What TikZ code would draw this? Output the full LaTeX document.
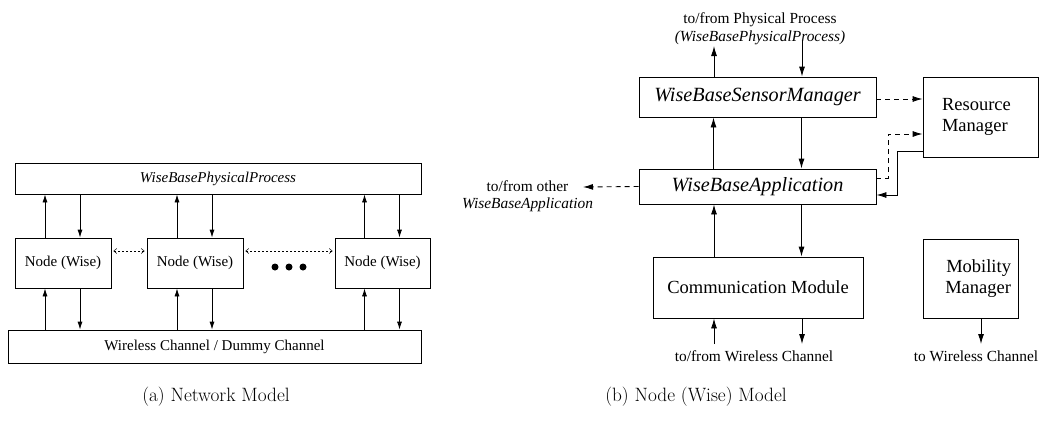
\documentclass[tikz,border=0pt]{standalone}
\usepackage{fontspec}
\newfontfamily\tms{Liberation Serif}
\usetikzlibrary{arrows.meta}

\tikzset{
  box/.style={draw,line width=0.8pt,inner sep=2pt,font=\tms\fontsize{15}{17}\selectfont},
  mod/.style={draw,line width=0.9pt,inner sep=2pt,font=\tms\fontsize{18.5}{21}\selectfont},
  imod/.style={mod,font=\tms\itshape\fontsize{20.2}{22}\selectfont},
  note/.style={inner sep=0pt,font=\tms\fontsize{15.4}{17.5}\selectfont},
  subcap/.style={inner sep=0pt,font=\fontsize{19.3}{22}\selectfont},
  sarr/.style={-{Latex[length=8pt,width=5pt]},line width=0.8pt},
  link/.style={{Straight Barb[length=3pt,width=5pt]}-{Straight Barb[length=3pt,width=5pt]},
    dash pattern=on 2pt off 2pt,line width=0.5pt,shorten <=2pt,shorten >=2pt},
  barr/.style={-{Latex[length=10pt,width=6pt]},line width=0.9pt},
  dbarr/.style={barr,dash pattern=on 5pt off 4pt}
}

\begin{document}
\begin{tikzpicture}[x=1pt,y=-1pt]
  \useasboundingbox (0,0) rectangle (1040,421);

  % (a) network model
  \node [box,minimum width=406pt,minimum height=31pt] (pp) at (218,178.5)
    {\itshape WiseBasePhysicalProcess};
  \node [box,minimum width=96pt,minimum height=50pt] (n1) at (63,263) {Node (Wise)};
  \node [box,minimum width=96pt,minimum height=50pt] (n2) at (195,263) {Node (Wise)};
  \node [box,minimum width=95pt,minimum height=50pt] (n3) at (382.5,263) {Node (Wise)};
  \node [box,minimum width=413pt,minimum height=33pt] (wc) at (214.5,346.5)
    {Wireless Channel / Dummy Channel};

  \foreach \n in {n1,n2,n3} {
    \draw [sarr] ([xshift=-18pt]\n.north) -- ([xshift=-18pt]\n.north |- pp.south);
    \draw [sarr] ([xshift=17pt]\n.north |- pp.south) -- ([xshift=17pt]\n.north);
    \draw [sarr] ([xshift=-18pt]\n.south |- wc.north) -- ([xshift=-18pt]\n.south);
    \draw [sarr] ([xshift=17pt]\n.south) -- ([xshift=17pt]\n.south |- wc.north);
  }

  \draw [link] ([yshift=12pt]n1.east) -- ([yshift=12pt]n2.west);
  \draw [link] ([yshift=12pt]n2.east) -- ([yshift=12pt]n3.west);
  \foreach \x in {275,289,303}
    \fill (\x,267) circle (3.5pt);

  \node [subcap] (capa) at (216,397) {(a) Network Model};

  % (b) node model
  \node [note,align=center] (pptxt) at (760,28.5)
    {to/from Physical Process\\{\itshape (WiseBasePhysicalProcess)}};
  \node [imod,minimum width=237pt,minimum height=40pt] (sm) at (757.5,97)
    {WiseBaseSensorManager};
  \node [imod,minimum width=237pt,minimum height=35pt] (app) at (757.5,186.5)
    {WiseBaseApplication};
  \node [mod,minimum width=210pt,minimum height=61pt] (cm) at (758,287.5)
    {Communication Module};
  \node [mod,text width=77pt,inner xsep=19pt,align=left,minimum height=80pt] (rm)
    at (980.5,117) {Resource\\Manager};
  \node [mod,text width=81pt,inner xsep=7pt,align=right,minimum height=79pt] (mm)
    at (970.5,278.5) {Mobility\\Manager};

  \node [note,align=center] (othtxt) at (527.5,196)
    {to/from other\\{\itshape WiseBaseApplication}};
  \node [note] (wtxt) at (754,356) {to/from Wireless Channel};
  \node [note] (mtxt) at (976,356) {to Wireless Channel};

  \coordinate (pin) at (714,46);
  \coordinate (pout) at (802,41);
  \coordinate (oth) at (583,187);
  \coordinate (win) at (714,344);
  \coordinate (wout) at (802,344);
  \coordinate (mout) at (981,344);

  \draw [barr] (sm.north -| pin) -- (pin);
  \draw [barr] (pout) -- (sm.north -| pout);
  \draw [barr] ([xshift=-44pt]app.north) -- ([xshift=-44pt]sm.south);
  \draw [barr] ([xshift=44pt]sm.south) -- ([xshift=44pt]app.north);
  \draw [barr] ([xshift=-44pt]cm.north) -- ([xshift=-44pt]cm.north |- app.south);
  \draw [barr] ([xshift=44pt]app.south) -- ([xshift=44pt]app.south |- cm.north);
  \draw [barr] (win) -- (cm.south -| win);
  \draw [barr] (cm.south -| wout) -- (wout);
  \draw [barr] (mm.south -| mout) -- (mout);

  \draw [dbarr] (app.west) -- (oth);
  \draw [dbarr] ([yshift=-2pt]sm.east) -- ([yshift=-2pt]sm.east -| rm.west);
  \draw [dbarr] ([yshift=8.5pt]app.east) -| ([xshift=-34pt,yshift=-17pt]rm.west)
    -- ([yshift=-17pt]rm.west);
  \draw [barr] ([yshift=-34pt]rm.west) -| ([xshift=21pt,yshift=-8.5pt]app.east)
    -- ([yshift=-8.5pt]app.east);

  \node [subcap] (capb) at (696,397) {(b) Node (Wise) Model};
\end{tikzpicture}
\end{document}
